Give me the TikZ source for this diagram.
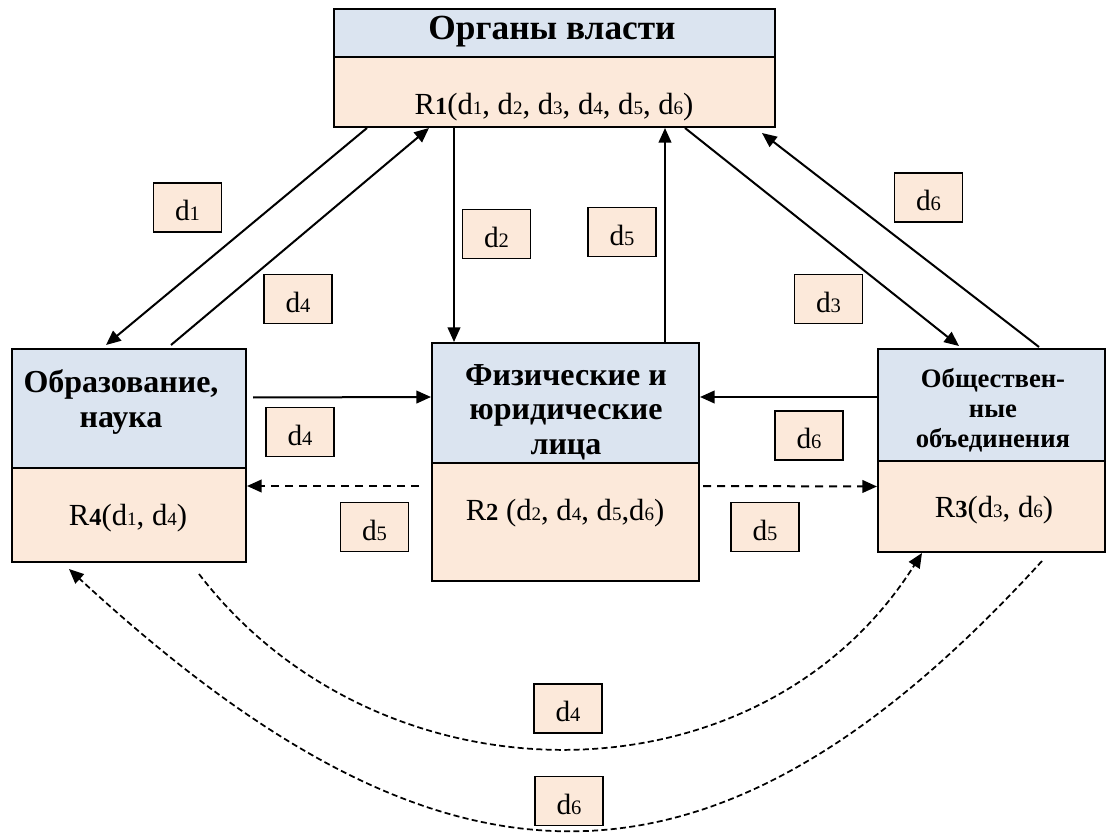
\documentclass[tikz,border=0pt]{standalone}
\usepackage{fontspec}
\usepackage{graphicx}
\setmainfont{Liberation Serif}
\usetikzlibrary{arrows.meta,fit}
\definecolor{hdrblue}{RGB}{219,228,240}
\definecolor{bodypeach}{RGB}{252,233,218}
% small digit index set on the baseline
\newcommand\dg[1]{\scalebox{0.62}{#1}}
\newcommand\ldg[1]{\scalebox{0.7}{#1}}
\newcommand\rg[1]{\textbf{\scalebox{0.8}{#1}}}
\begin{document}
\begin{tikzpicture}[x=0.75pt,y=-0.75pt,
  box/.style={draw, line width=1.5pt, inner sep=0pt},
  hdr/.style={box, fill=hdrblue},
  body/.style={box, fill=bodypeach},
  lbl/.style={draw, line width=1.1pt, fill=bodypeach, minimum width=51pt,
    minimum height=37pt, inner sep=0pt, text height=20pt, text depth=0pt,
    font=\fontsize{22}{22}\selectfont},
  ttl/.style={align=center, inner sep=0pt, font=\bfseries\fontsize{24}{26}\selectfont},
  rtxt/.style={anchor=base, inner sep=0pt, font=\fontsize{23}{23}\selectfont},
  arr/.style={line width=1.5pt, -{Triangle[length=11pt,width=9.5pt]}},
  darr/.style={arr, dash pattern=on 6pt off 4.5pt},
  carr/.style={line width=1.3pt, dash pattern=on 4.5pt off 2.5pt,
    -{Triangle[length=11pt,width=9.5pt]}}
]
\useasboundingbox (0,0) rectangle (1107,834);

% boxes
\node[hdr,  fit={(334,9) (775,57)}]    (topH) {};
\node[body, fit={(334,57) (775,127)}]  (topL) {};
\node[hdr,  fit={(12,349) (246,468)}]  (leftH) {};
\node[body, fit={(12,468) (246,562)}]  (leftL) {};
\node[hdr,  fit={(432,343) (699,463)}] (cenH) {};
\node[body, fit={(432,463) (699,581)}] (cenL) {};
\node[hdr,  fit={(878,349) (1105,461)}] (rightH) {};
\node[body, fit={(878,461) (1105,552)}] (rightL) {};

% box texts
\node[ttl, anchor=base, font=\bfseries\fontsize{26.5}{28}\selectfont] (topT) at (552,40) {Органы власти};
\node[rtxt] (topR) at (554,115) {R\rg{1}(d\dg{1}, d\dg{2}, d\dg{3}, d\dg{4}, d\dg{5}, d\dg{6})};
\node[ttl] (leftT) at (121,402) {Образование,\\наука};
\node[rtxt] (leftR) at (128,525) {R\rg{4}(d\dg{1}, d\dg{4})};
\node[ttl] (cenT) at (566,412) {Физические и\\юридические\\лица};
\node[rtxt] (cenR) at (565,520) {R\rg{2} (d\dg{2}, d\dg{4}, d\dg{5},d\dg{6})};
\node[ttl, font=\bfseries\fontsize{20}{22.5}\selectfont] (rightT) at (993,410) {Обществен-\\ные\\объединения};
\node[rtxt] (rightR) at (994,517) {R\rg{3}(d\dg{3}, d\dg{6})};

% solid connectors
\draw[arr] ([shift={(34,0)}]topL.south west) -- ([shift={(95,-3)}]leftH.north west);
\draw[arr] ([shift={(160,-3)}]leftH.north west) -- ([shift={(96,0)}]topL.south west);
\draw[arr] ([shift={(121,0)}]topL.south west) -- ([shift={(23,0)}]cenH.north west);
\draw[arr] ([shift={(234,0)}]cenH.north west) -- ([shift={(332,0)}]topL.south west);
\draw[arr] ([shift={(352,0)}]topL.south west) -- ([shift={(82,-2)}]rightH.north west);
\draw[arr] ([shift={(162,-1)}]rightH.north west) -- ([shift={(429,5)}]topL.south west);
\draw[arr] ([shift={(6,-11)}]leftH.east) -- ([shift={(0,-6)}]cenH.east -| cenH.west);
\draw[arr] ([shift={(0,-8)}]rightH.west) -- ([shift={(0,-6)}]cenH.east);

% dashed connectors
\draw[darr] ([shift={(-12,-36)}]cenL.west) -- ([shift={(0,-29)}]leftL.east);
\draw[darr] ([shift={(3,-36)}]cenL.east) -- ([shift={(0,-20)}]rightL.west);
\draw[carr] ([shift={(188,11)}]leftL.south west) .. controls (380,810) and (760,810) .. ([shift={(45,0)}]rightL.south west);
\draw[carr] ([shift={(165,8)}]rightL.south west) .. controls (710,925) and (440,912) .. ([shift={(58,6)}]leftL.south west);

% flow labels
\node[lbl] (l1)  at (187.5,207.5) {d\ldg{1}};
\node[lbl] (l4a) at (298,299)     {d\ldg{4}};
\node[lbl] (l2)  at (496.5,234)   {d\ldg{2}};
\node[lbl] (l5a) at (622,232)     {d\ldg{5}};
\node[lbl] (l6a) at (928.5,197.5) {d\ldg{6}};
\node[lbl] (l3)  at (828.5,299)   {d\ldg{3}};
\node[lbl] (l4b) at (300,432)     {d\ldg{4}};
\node[lbl] (l5b) at (374.5,527)   {d\ldg{5}};
\node[lbl] (l6b) at (809,435.5)   {d\ldg{6}};
\node[lbl] (l5c) at (765,527)     {d\ldg{5}};
\node[lbl] (l4c) at (568,708.5)   {d\ldg{4}};
\node[lbl] (l6c) at (569,801)     {d\ldg{6}};
\end{tikzpicture}
\end{document}
